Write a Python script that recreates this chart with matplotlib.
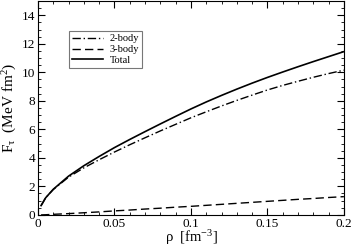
import matplotlib
matplotlib.use("Agg")
import matplotlib.pyplot as plt
from matplotlib.ticker import MultipleLocator

plt.rcParams['font.family'] = ['Liberation Serif', 'DejaVu Serif']
plt.rcParams['mathtext.fontset'] = 'custom'
plt.rcParams['mathtext.rm'] = 'Liberation Serif'
plt.rcParams['mathtext.it'] = 'Liberation Serif:italic'

rho = [0.002, 0.005, 0.01, 0.02, 0.03, 0.04, 0.05, 0.06, 0.07, 0.08, 0.09, 0.10,
       0.11, 0.12, 0.13, 0.14, 0.15, 0.16, 0.17, 0.18, 0.19, 0.20]
total = [0.65, 1.2, 1.8, 2.72, 3.45, 4.1, 4.72, 5.29, 5.84, 6.38, 6.91, 7.43,
         7.92, 8.38, 8.82, 9.24, 9.64, 10.02, 10.39, 10.75, 11.1, 11.45]
two_body = [0.65, 1.2, 1.78, 2.65, 3.3, 3.87, 4.41, 4.92, 5.41, 5.89, 6.35, 6.81,
            7.23, 7.64, 8.03, 8.4, 8.76, 9.08, 9.37, 9.65, 9.91, 10.15]
three_body = [0.0, 0.01, 0.04, 0.09, 0.15, 0.21, 0.28, 0.34, 0.41, 0.47, 0.54, 0.6,
              0.67, 0.74, 0.81, 0.88, 0.95, 1.02, 1.09, 1.15, 1.22, 1.28]

fig = plt.figure(figsize=(3.52, 2.47), dpi=100)
ax = fig.add_axes([0.108, 0.130, 0.869, 0.866])

ax.plot(rho, two_body, color='black', lw=1.0, dashes=(6, 2, 1, 2), label='2-body')
ax.plot(rho, three_body, color='black', lw=1.0, dashes=(6, 3), label='3-body')
ax.plot(rho, total, color='black', lw=1.2, label='Total')

ax.set_xlim(0, 0.2)
ax.set_ylim(0, 15)
ax.xaxis.set_major_locator(MultipleLocator(0.05))
ax.xaxis.set_minor_locator(MultipleLocator(0.01))
ax.yaxis.set_major_locator(MultipleLocator(2))
ax.yaxis.set_minor_locator(MultipleLocator(0.5))
ax.set_xticks([0, 0.05, 0.1, 0.15, 0.2])
ax.set_xticklabels(['0', '0.05', '0.1', '0.15', '0.2'])
ax.tick_params(which='both', direction='in', top=True, right=True, labelsize=9.5, pad=2)
ax.tick_params(which='major', length=5, width=0.8)
ax.tick_params(which='minor', length=2.5, width=0.6)

ax.set_xlabel(r'ρ  [fm$^{\mathrm{-3}}$]', fontsize=10.5, labelpad=-1)
ax.set_ylabel(r'F$_{\mathrm{τ}}$  (MeV fm$^{\mathrm{2}}$)', fontsize=11, labelpad=2)

leg = ax.legend(loc='upper left', bbox_to_anchor=(0.101, 0.86), borderaxespad=0,
                fontsize=7.5, frameon=True, fancybox=False, edgecolor='#555555',
                handlelength=3.0, borderpad=0.3, labelspacing=0.15, handletextpad=0.6)
leg.get_frame().set_linewidth(0.8)

fig.savefig('out.png', dpi=100)
